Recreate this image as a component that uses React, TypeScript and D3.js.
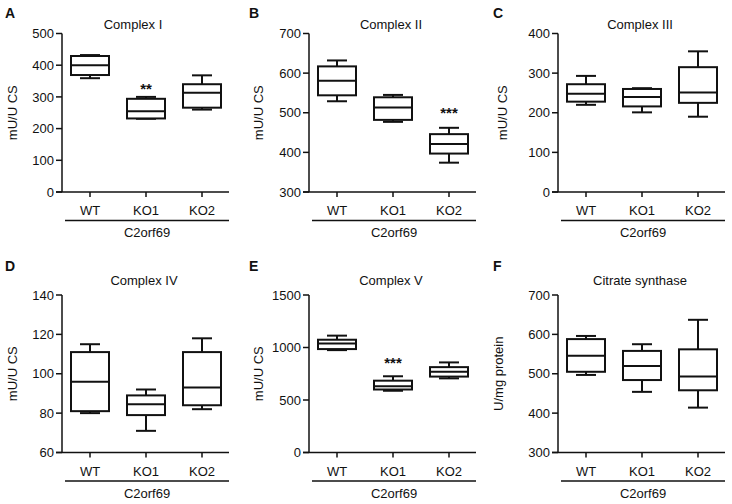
import React from "react";
import * as d3 from "d3";

// ---------- data ----------
const categories = ["WT", "KO1", "KO2"];
const groupLabel = "C2orf69";

const panelLetters = ["A", "B", "C", "D", "E", "F"];
const panelTitles = ["Complex I", "Complex II", "Complex III", "Complex IV", "Complex V", "Citrate synthase"];
const yAxisLabels = ["mU/U CS", "mU/U CS", "mU/U CS", "mU/U CS", "mU/U CS", "U/mg protein"];

// [min, q1, median, q3, max] per category
const complexI = [[359, 369, 400, 429, 432], [231, 232, 255, 294, 300], [260, 266, 313, 340, 368]];
const complexII = [[529, 544, 581, 617, 632], [477, 482, 513, 539, 545], [374, 397, 421, 446, 462]];
const complexIII = [[220, 228, 248, 272, 293], [201, 216, 240, 260, 262], [190, 225, 251, 315, 355]];
const complexIV = [[80, 81, 96, 111, 115], [71, 79, 84.5, 89, 92], [82, 84, 93, 111, 118]];
const complexV = [[975, 985, 1038, 1074, 1113], [588, 600, 630, 684, 726], [706, 723, 768, 813, 858]];
const citrateSynthase = [[497, 505, 546, 588, 596], [454, 484, 520, 558, 575], [414, 458, 493, 562, 637]];

const ticksI = [0, 100, 200, 300, 400, 500];
const ticksII = [300, 400, 500, 600, 700];
const ticksIII = [0, 100, 200, 300, 400];
const ticksIV = [60, 80, 100, 120, 140];
const ticksV = [0, 500, 1000, 1500];
const ticksCS = [300, 400, 500, 600, 700];

// significance: [category, star string, y value]
const sigI = [["KO1", "**", 333]];
const sigII = [["KO2", "***", 506]];
const sigIII: any[] = [];
const sigIV: any[] = [];
const sigV = [["KO1", "***", 880]];
const sigCS: any[] = [];

const panelData = [complexI, complexII, complexIII, complexIV, complexV, citrateSynthase];
const panelTicks = [ticksI, ticksII, ticksIII, ticksIV, ticksV, ticksCS];
const panelSig = [sigI, sigII, sigIII, sigIV, sigV, sigCS];

// ---------- layout ----------
const FONT = "'Liberation Sans', Arial, Helvetica, sans-serif";
const colX0 = [62, 309, 558];
const colLeft = [0, 244, 488];
const rowTop = [33.5, 295];
const rowBottom = [192, 452.5];
const yLabelX = [16.5, 262.5, 507, 16.5, 263, 502.5];
const titleShift = [-13, -2, -2, -2, -2, -2];
const plotW = 168;
const boxW = 38;
const capW = 20;

function Panel({ idx }: { idx: number }) {
  const col = idx % 3;
  const row = Math.floor(idx / 3);
  const x0 = colX0[col];
  const top = rowTop[row];
  const bottom = rowBottom[row];
  const ticks = panelTicks[idx];
  const data = panelData[idx];
  const y = d3.scaleLinear().domain([ticks[0], ticks[ticks.length - 1]]).range([bottom, top]);
  const x = d3.scaleBand().domain(categories).range([x0, x0 + plotW]).padding(0);
  const cx = (c: string) => (x(c) as number) + x.bandwidth() / 2;
  const axisEnd = x0 + plotW - 1;
  const stroke = "#111";
  return (
    <g>
      <text x={colLeft[col] + 5} y={row === 0 ? 17.5 : 270.5} fontSize={14} fontWeight="bold" fontFamily={FONT} fill={stroke}>
        {panelLetters[idx]}
      </text>
      <text x={x0 + plotW / 2 + titleShift[idx]} y={row === 0 ? 28.5 : 284.5} fontSize={13} textAnchor="middle" fontFamily={FONT} fill={stroke}>
        {panelTitles[idx]}
      </text>
      <text
        transform={`translate(${yLabelX[idx]},${(top + bottom) / 2}) rotate(-90)`}
        fontSize={13}
        textAnchor="middle"
        fontFamily={FONT}
        fill={stroke}
      >
        {yAxisLabels[idx]}
      </text>
      {/* y axis */}
      <line x1={x0} x2={x0} y1={top} y2={bottom} stroke={stroke} strokeWidth={1.5} />
      {ticks.map((t) => (
        <g key={t}>
          <line x1={x0 - 6} x2={x0} y1={y(t)} y2={y(t)} stroke={stroke} strokeWidth={1.5} />
          <text x={x0 - 8} y={y(t)} dy="0.36em" textAnchor="end" fontSize={13} fontFamily={FONT} fill={stroke}>
            {t}
          </text>
        </g>
      ))}
      {/* x axis */}
      <line x1={x0 - 6} x2={axisEnd} y1={bottom} y2={bottom} stroke={stroke} strokeWidth={1.5} />
      {categories.map((c) => (
        <g key={c}>
          <line x1={cx(c)} x2={cx(c)} y1={bottom} y2={bottom + 5} stroke={stroke} strokeWidth={1.5} />
          <text x={cx(c)} y={bottom + 23} textAnchor="middle" fontSize={13} fontFamily={FONT} fill={stroke}>
            {c}
          </text>
        </g>
      ))}
      <line x1={x0 + 3} x2={axisEnd} y1={bottom + 28.5} y2={bottom + 28.5} stroke={stroke} strokeWidth={1.3} />
      <text x={(x0 + 3 + axisEnd) / 2} y={bottom + 45} textAnchor="middle" fontSize={13} fontFamily={FONT} fill={stroke}>
        {groupLabel}
      </text>
      {/* boxes */}
      {categories.map((c, i) => {
        const [mn, q1, md, q3, mx] = data[i];
        const xc = cx(c);
        return (
          <g key={c} stroke={stroke} strokeWidth={2} fill="none">
            <line x1={xc} x2={xc} y1={y(mx)} y2={y(q3)} />
            <line x1={xc} x2={xc} y1={y(q1)} y2={y(mn)} />
            <line x1={xc - capW / 2} x2={xc + capW / 2} y1={y(mx)} y2={y(mx)} />
            <line x1={xc - capW / 2} x2={xc + capW / 2} y1={y(mn)} y2={y(mn)} />
            <rect x={xc - boxW / 2} y={y(q3)} width={boxW} height={y(q1) - y(q3)} fill="#fff" />
            <line x1={xc - boxW / 2} x2={xc + boxW / 2} y1={y(md)} y2={y(md)} />
          </g>
        );
      })}
      {panelSig[idx].map((s: any) => (
        <text key={s[0]} x={cx(s[0])} y={y(s[2]) + 8} textAnchor="middle" fontSize={15} fontWeight="bold" fontFamily={FONT} fill={stroke}>
          {s[1]}
        </text>
      ))}
    </g>
  );
}

export default function App() {
  return (
    <svg width={732} height={504} style={{ position: "absolute", left: 0, top: 0, background: "#fff" }}>
      <rect width={732} height={504} fill="#fff" />
      {panelLetters.map((_, i) => (
        <Panel key={i} idx={i} />
      ))}
    </svg>
  );
}
